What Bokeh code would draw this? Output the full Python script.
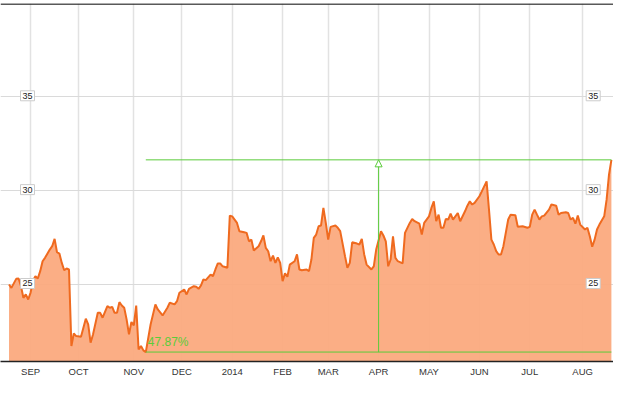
from bokeh.plotting import figure
from bokeh.models import Range1d, FixedTicker, Label, Span, Arrow, NormalHead
from bokeh.embed import file_html
from bokeh.resources import INLINE

# trading-day index (0 = 20 Aug 2013) and closing price
day = [0, 1, 3, 4, 5, 6, 7, 8, 9, 10, 11, 12, 13, 14, 15, 17, 18, 19, 20, 21,
       22, 23, 24, 25, 26, 27, 28, 30, 32, 33, 34, 35, 37, 38, 39, 41, 42, 43, 44, 45,
       46, 47, 48, 49, 50, 51, 52, 53, 54, 55, 56, 57, 59, 61, 62, 64, 66, 67, 69, 70,
       71, 73, 74, 75, 77, 78, 79, 80, 81, 82, 84, 85, 86, 87, 88, 89, 91, 92, 93, 95,
       96, 98, 99, 100, 101, 102, 104, 105, 106, 107, 108, 109, 110, 111, 112, 113, 114, 115, 116, 117,
       119, 120, 121, 122, 124, 125, 126, 127, 128, 129, 130, 131, 132, 133, 134, 136, 137, 138, 140, 141,
       142, 143, 145, 146, 147, 148, 149, 151, 152, 153, 155, 156, 157, 158, 159, 160, 161, 162, 164, 165,
       167, 168, 169, 171, 172, 173, 175, 176, 177, 178, 179, 180, 181, 182, 183, 184, 185, 187, 188, 190,
       191, 192, 193, 194, 196, 197, 199, 200, 201, 202, 203, 204, 205, 206, 208, 209, 211, 212, 214, 216,
       217, 218, 219, 220, 221, 222, 223, 225, 226, 228, 229, 230, 232, 233, 234, 235, 236, 237, 238, 240,
       241, 242, 243, 244, 245, 246, 248, 249, 250, 251]
price = [25.00, 24.82, 25.30, 25.32, 24.91, 24.29, 24.47, 24.20, 24.57, 25.20, 25.44, 25.32, 25.71, 26.24, 26.42, 26.86, 27.04, 27.43, 26.72, 26.65,
         26.15, 25.76, 25.85, 25.80, 21.72, 22.39, 22.25, 22.22, 23.18, 22.87, 21.90, 22.34, 23.49, 23.49, 23.23, 23.85, 23.76, 23.81, 23.49, 23.49,
         24.06, 23.88, 23.76, 23.14, 22.34, 23.00, 22.82, 23.88, 21.54, 21.72, 21.49, 21.40, 22.87, 23.94, 23.67, 23.35, 23.76, 24.03, 23.94, 24.11,
         24.56, 24.73, 24.47, 24.77, 24.91, 24.88, 24.77, 24.95, 25.27, 25.23, 25.53, 25.45, 25.80, 26.12, 26.12, 25.97, 25.89, 28.67, 28.63, 28.28,
         27.84, 27.78, 27.75, 27.30, 27.39, 26.81, 27.04, 27.30, 27.61, 26.95, 26.77, 26.24, 26.54, 26.15, 26.45, 26.15, 25.18, 25.59, 25.41, 26.06,
         26.24, 26.60, 25.80, 25.76, 25.80, 25.71, 26.33, 27.48, 27.66, 28.10, 28.14, 29.08, 28.28, 27.39, 28.07, 28.14, 28.02, 27.84, 26.51, 25.89,
         26.15, 27.25, 27.18, 27.13, 27.43, 26.60, 26.06, 25.80, 25.97, 26.86, 27.84, 27.61, 27.30, 25.97, 26.33, 27.57, 26.42, 26.24, 26.12, 27.75,
         28.28, 28.49, 28.37, 28.24, 27.66, 28.28, 28.63, 29.08, 29.43, 28.37, 28.72, 28.02, 28.02, 28.49, 28.46, 28.78, 28.46, 28.81, 28.37, 28.90,
         29.20, 29.43, 29.26, 29.35, 29.70, 29.96, 30.49, 28.99, 27.39, 27.13, 26.78, 26.60, 26.60, 27.04, 28.46, 28.72, 28.69, 28.07, 28.10, 28.02,
         28.07, 28.72, 28.99, 28.72, 28.46, 28.63, 28.67, 28.99, 29.26, 29.20, 28.72, 28.81, 28.85, 28.81, 28.46, 28.55, 28.24, 28.67, 28.19, 27.93,
         28.02, 27.57, 27.01, 27.39, 27.93, 28.19, 28.63, 29.52, 30.85, 31.64]

month_idx = [9, 29, 52, 72, 93, 114, 133, 154, 175, 196, 217, 239]
month_lbl = ["SEP", "OCT", "NOV", "DEC", "2014", "FEB", "MAR", "APR", "MAY", "JUN", "JUL", "AUG"]
y_ticks = [25, 30, 35]
gain_text = "47.87%"

FW, FH = 613, 358          # frame size in pixels
px_per_day = 2.40
px_per_unit = 18.77
x0 = -8.5 / px_per_day
x1 = x0 + FW / px_per_day
y1 = 39.97
y0 = y1 - FH / px_per_unit

GREEN = "#5ACC3A"
FONT = "Liberation Sans"

p = figure(frame_width=FW, frame_height=FH, output_backend="svg", toolbar_location=None,
           x_range=Range1d(x0, x1), y_range=Range1d(y0, y1),
           y_axis_location=None, min_border_left=0, min_border_right=0,
           min_border_top=3, min_border_bottom=0)
p.outline_line_color = None
p.background_fill_color = "white"

p.xgrid.ticker = FixedTicker(ticks=month_idx)
p.xgrid.grid_line_color = "#e2e2e2"
p.xgrid.grid_line_width = 1.5
p.ygrid.ticker = FixedTicker(ticks=y_ticks)
p.ygrid.grid_line_color = "#dadada"
p.ygrid.grid_line_width = 1

ax = p.xaxis[0]
ax.ticker = FixedTicker(ticks=month_idx)
ax.major_label_overrides = {m: l for m, l in zip(month_idx, month_lbl)}
ax.major_tick_line_color = None
ax.minor_tick_line_color = None
ax.major_tick_out = 0
ax.major_tick_in = 0
ax.minor_tick_out = 0
ax.minor_tick_in = 0
ax.axis_line_color = "#222222"
ax.axis_line_width = 1.5
ax.major_label_text_font = FONT
ax.major_label_text_font_size = "9.5px"
ax.major_label_text_color = "#333333"
ax.major_label_standoff = 4
ax.axis_label_standoff = 0

p.add_layout(Span(location=y1 - 0.03, dimension="width", line_color="#222222", line_width=1.5))

p.varea(x=day, y1=y0 - 1, y2=price, fill_color="#FBAA7E", fill_alpha=0.95)
p.line(day, price, line_color="#EF6A1F", line_width=2)

lo = min(price)
lo_i = day[price.index(lo)]
hi = price[-1]
hi_i = day[-1]
mid = (lo_i + hi_i) / 2
p.line([lo_i, hi_i], [hi, hi], line_color=GREEN, line_width=1)
p.line([lo_i, hi_i], [lo, lo], line_color=GREEN, line_width=1)
p.add_layout(Arrow(end=NormalHead(size=7, fill_color="white", line_color=GREEN, line_width=1),
                   x_start=mid, y_start=lo, x_end=mid, y_end=hi,
                   line_color=GREEN, line_width=1))
p.add_layout(Label(x=lo_i, y=lo, text=gain_text, x_offset=2, y_offset=3,
                   text_color=GREEN, text_font_size="12px", text_font=FONT))

xl = x0 + 27 / px_per_day
xr = x0 + 592.7 / px_per_day
for yv in y_ticks:
    for xs in (xl, xr):
        p.add_layout(Label(x=xs, y=yv, text=str(yv), text_align="center",
                           text_baseline="middle", y_offset=1,
                           text_font=FONT, text_font_size="9px", text_color="#222222",
                           background_fill_color="white", border_line_color="#cccccc",
                           padding=2))

open("out.html", "w").write(file_html(p, INLINE))
